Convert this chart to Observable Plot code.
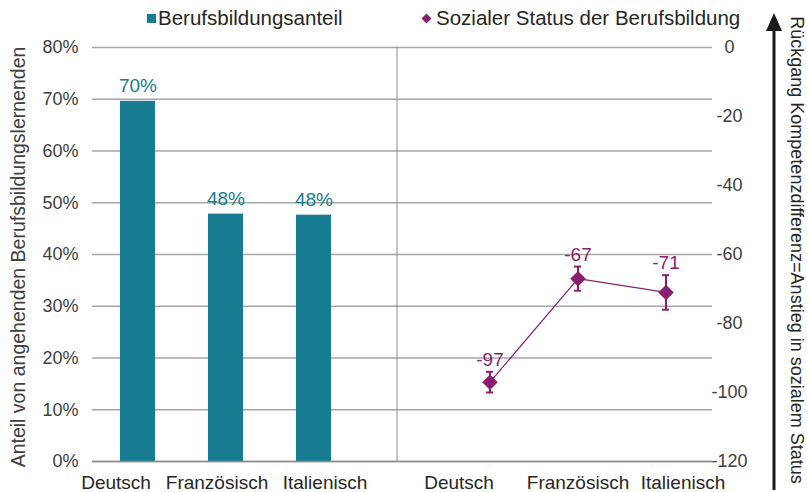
<!DOCTYPE html>
<html>
<head>
<meta charset="utf-8">
<script src="https://cdn.jsdelivr.net/npm/d3@7"></script>
<script src="https://cdn.jsdelivr.net/npm/@observablehq/plot@0.6"></script>
<style>
  html, body { margin: 0; padding: 0; background: #fff; }
  #wrap { position: relative; width: 807px; height: 492px; font-family: "Liberation Sans", Arial, sans-serif; }
  #legend { position: absolute; top: 0; left: 0; width: 807px; height: 40px; font-size: 20.5px; color: #262626; }
  #legend .item { position: absolute; top: 6px; display: flex; align-items: center; white-space: nowrap; }
  #legend .sq { width: 9px; height: 9px; background: #177b92; margin-right: 2px; }
  #legend .dm { width: 7px; height: 7px; background: #8b1f6f; transform: rotate(45deg); margin-right: 6px; margin-left: 2px; }
</style>
</head>
<body>
<div id="wrap">
  <div id="legend"></div>
</div>
<script>
// ---- data ----
const languages = ["Deutsch", "Französisch", "Italienisch"];
const vetShare = [0.696, 0.478, 0.476];
const vetShareLabels = ["70%", "48%", "48%"];
const statusScore = [-97, -67, -71];
const statusLow = [-100, -70.5, -76];
const statusHigh = [-94, -63.5, -66];
const statusLabels = ["-97", "-67", "-71"];
const leftTicks = [0, 0.1, 0.2, 0.3, 0.4, 0.5, 0.6, 0.7, 0.8];
const rightTicks = [0, -20, -40, -60, -80, -100, -120];
const seriesNames = ["Berufsbildungsanteil", "Sozialer Status der Berufsbildung"];
const leftTitle = "Anteil von angehenden Berufsbildungslernenden";
const rightTitle = "Rückgang Kompetenzdifferenz=Anstieg in sozialem Status";

// ---- layout ----
const teal = "#177b92", purple = "#8b1f6f";
const keysA = languages.map(l => "A:" + l);
const keysB = languages.map(l => "B:" + l);
const xDomain = [...keysA, "gap", ...keysB];
const y2 = d3.scaleLinear().domain([-120, 0]).range([0, 0.8]);

const bars = languages.map((l, i) => ({key: keysA[i], v: vetShare[i], label: vetShareLabels[i]}));
const pts = languages.map((l, i) => ({key: keysB[i], v: y2(statusScore[i]), lo: y2(statusLow[i]), hi: y2(statusHigh[i]), label: statusLabels[i]}));
const xLabels = [...keysA, ...keysB].map((k, i) => ({key: k, text: languages[i % 3]}));
const labelShift = [-22, -9, 11, -31, 0, 17];

const plot = Plot.plot({
  width: 807, height: 492,
  marginLeft: 92, marginRight: 95, marginTop: 47, marginBottom: 31,
  style: {fontFamily: "'Liberation Sans', Arial, sans-serif", fontSize: "18px", color: "#404040", background: "transparent"},
  x: {type: "band", domain: xDomain, paddingInner: 0.6, paddingOuter: 0.3, axis: null},
  y: {domain: [0, 0.8], axis: null},
  marks: [
    Plot.gridY(leftTicks, {stroke: "#a6a6a6", strokeOpacity: 1, strokeWidth: 1.3}),
    Plot.ruleX(["gap"], {y1: 0, y2: 0.8, stroke: "#8c8c8c", strokeWidth: 1, dx: -5}),
    Plot.barY(bars, {x: "key", y: "v", fill: teal}),
    Plot.ruleY([0], {stroke: "#8c8c8c", strokeWidth: 1.3}),
    Plot.text(bars, {x: "key", y: "v", text: "label", fill: teal, dy: -15, fontSize: 19}),
    Plot.line(pts, {x: "key", y: "v", stroke: purple, strokeWidth: 1.2}),
    Plot.ruleX(pts, {x: "key", y1: "lo", y2: "hi", stroke: purple, strokeWidth: 2}),
    Plot.tickY(pts, {x: "key", y: "lo", stroke: purple, strokeWidth: 2, insetLeft: 14, insetRight: 14}),
    Plot.tickY(pts, {x: "key", y: "hi", stroke: purple, strokeWidth: 2, insetLeft: 14, insetRight: 14}),
    Plot.dot(pts, {x: "key", y: "v", symbol: "diamond2", r: 7, fill: purple, stroke: null}),
    Plot.text(pts, {x: "key", y: "hi", text: "label", fill: purple, dy: -12, fontSize: 19}),
    Plot.axisY(leftTicks, {anchor: "left", tickSize: 0, tickPadding: 14, tickFormat: d3.format(".0%"), label: null, fill: "#404040"}),
    Plot.axisY(rightTicks.map(t => y2(t)), {anchor: "right", tickSize: 0, tickPadding: 17, textAnchor: "middle", tickFormat: (d, i) => rightTicks[i], label: null, fill: "#404040"}),
    ...xLabels.map((d, i) => Plot.text([d], {x: "key", y: 0, text: "text", dy: 21, dx: labelShift[i], lineAnchor: "middle", fontSize: 19, fill: "#262626"}))
  ]
});

const wrap = document.getElementById("wrap");
wrap.insertBefore(plot, wrap.firstChild);
plot.style.position = "absolute";
plot.style.left = "0";
plot.style.top = "0";

const svg = d3.select(plot);
// left title
svg.append("text")
  .attr("transform", "translate(20,257) rotate(-90)")
  .attr("text-anchor", "middle").attr("dominant-baseline", "middle")
  .attr("font-size", 19.5).attr("fill", "#404040")
  .text(leftTitle);
// right title
svg.append("text")
  .attr("transform", "translate(796,250) rotate(90)")
  .attr("text-anchor", "middle").attr("dominant-baseline", "middle")
  .attr("font-size", 18).attr("fill", "#262626")
  .text(rightTitle);
// arrow
svg.append("line").attr("x1", 774).attr("x2", 774).attr("y1", 490).attr("y2", 26)
  .attr("stroke", "#1a1a1a").attr("stroke-width", 3);
svg.append("path").attr("d", "M774,13 L766,31 L782,31 Z").attr("fill", "#1a1a1a");

// legend
const legend = d3.select("#legend");
const it1 = legend.append("div").attr("class", "item").style("left", "147px");
it1.append("div").attr("class", "sq");
it1.append("span").text(seriesNames[0]);
const it2 = legend.append("div").attr("class", "item").style("left", "421px");
it2.append("div").attr("class", "dm");
it2.append("span").text(seriesNames[1]);
</script>
</body>
</html>
